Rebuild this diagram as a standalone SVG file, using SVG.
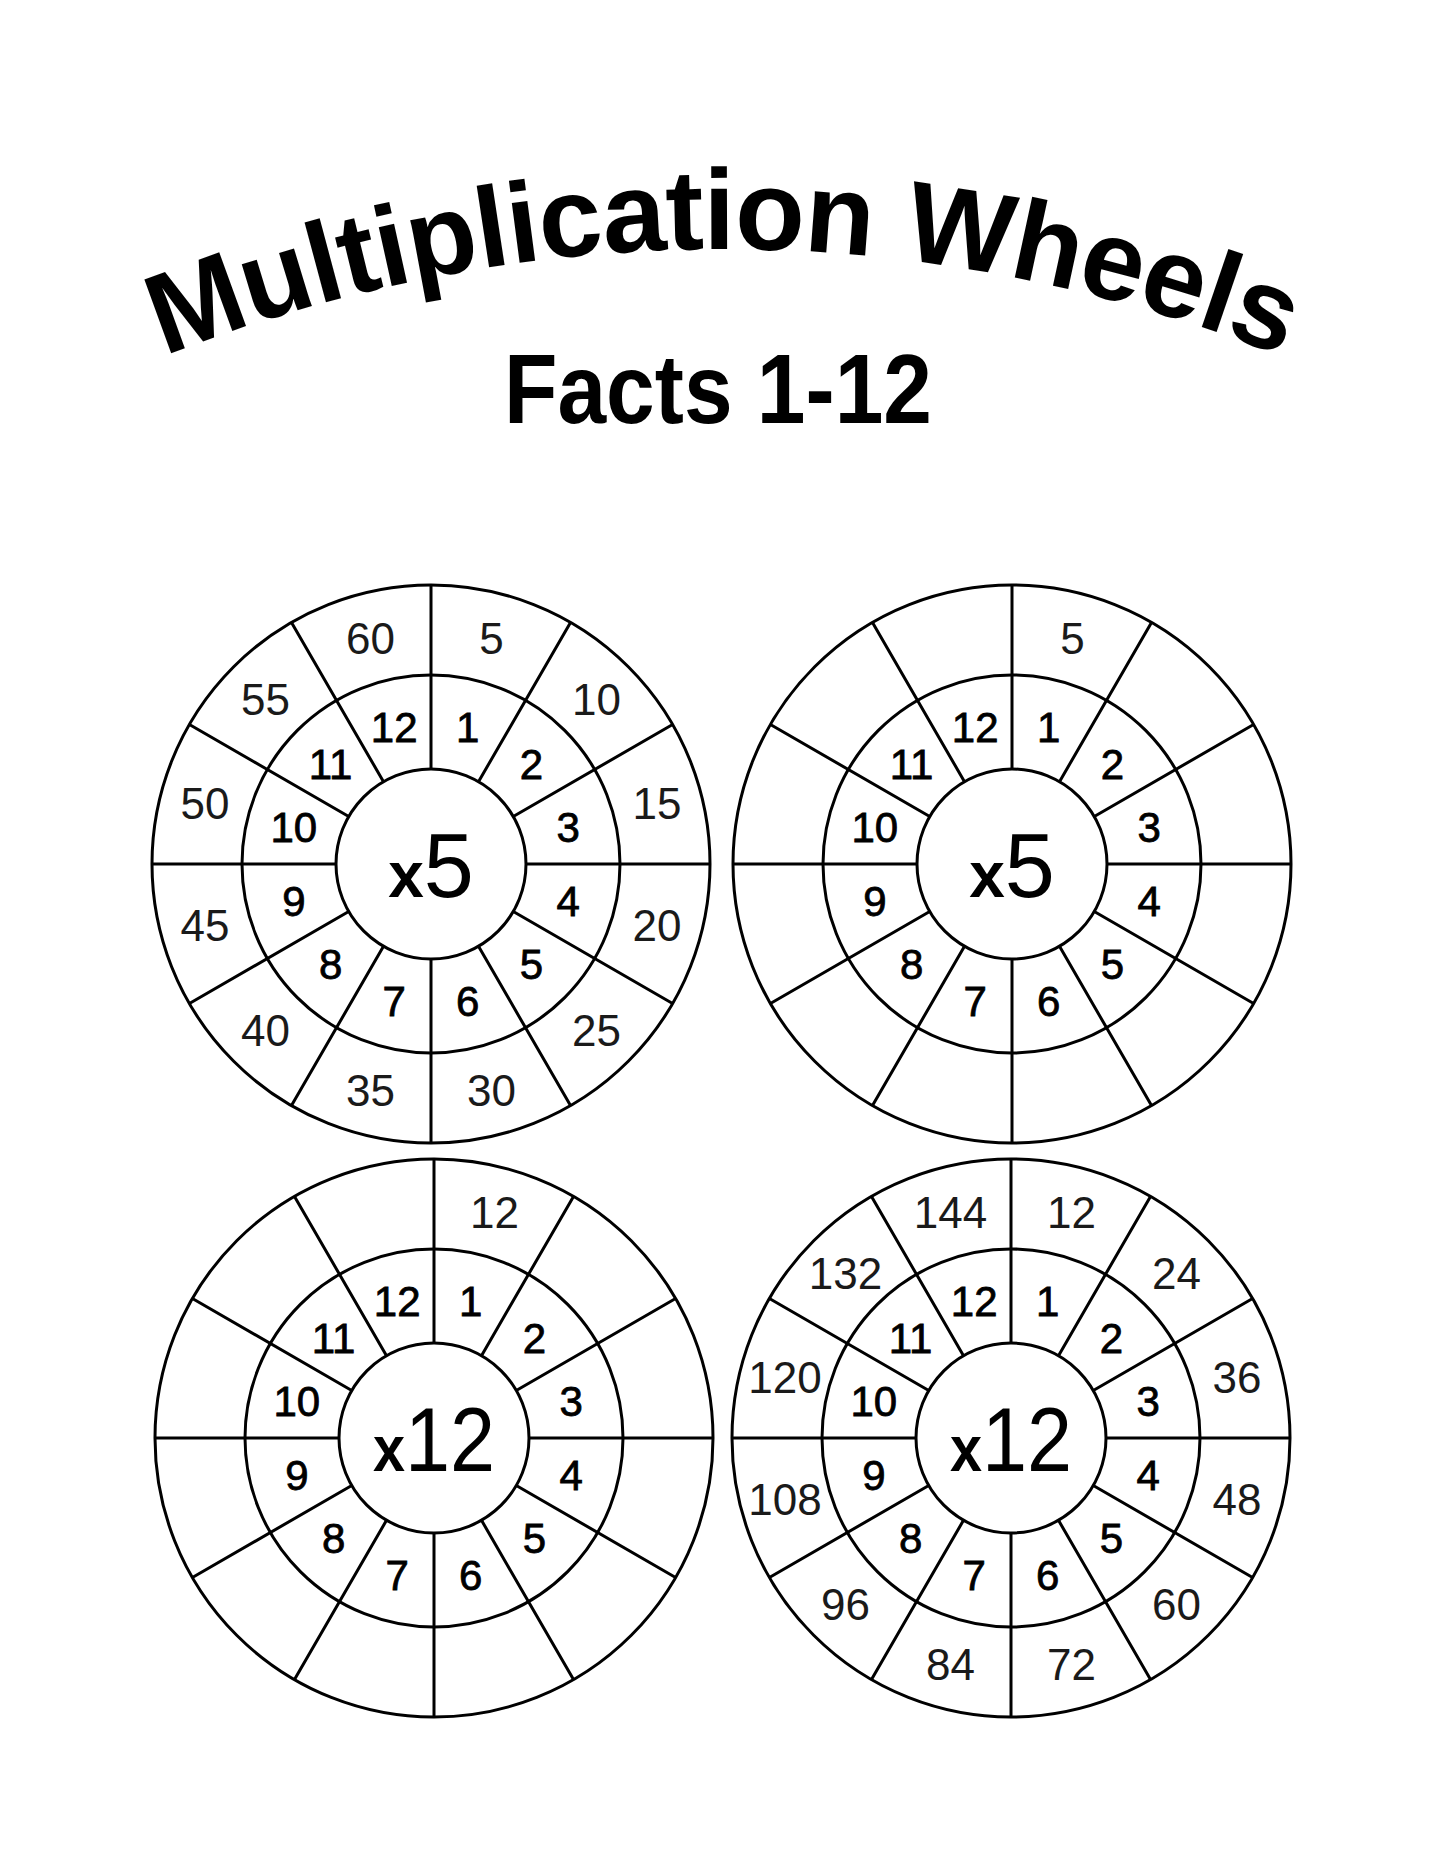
<svg xmlns="http://www.w3.org/2000/svg" xmlns:xlink="http://www.w3.org/1999/xlink" width="1445" height="1871" viewBox="0 0 1445 1871">
<style>
.ring{fill:none;stroke:#000;stroke-width:3}
.spoke{fill:none;stroke:#000;stroke-width:3}
.title{font-family:"Liberation Sans",Arial,sans-serif;font-weight:bold;fill:#000}
.out{font-family:"Liberation Sans",Arial,sans-serif;font-size:44px;text-anchor:middle;fill:#1a1a1a}
.in{font-family:"Liberation Sans",Arial,sans-serif;font-size:42px;text-anchor:middle;fill:#000;stroke:#000;stroke-width:0.8}
.ctr{font-family:"Liberation Sans",Arial,sans-serif;text-anchor:middle;fill:#000}
.cx{font-size:64px;font-weight:bold}
.cn{font-size:90px}
</style>
<defs>
<path id="titleArc" d="M 87 390 A 1505 1505 0 0 1 1359 390" fill="none"/>
<g id="frame">
<circle class="ring" r="279"/>
<circle class="ring" r="189"/>
<circle class="ring" r="95"/>
<path class="spoke" d="M0 -95V-279M47.5 -82.27L139.5 -241.6M82.27 -47.5L241.6 -139.5M95 0H279M82.27 47.5L241.6 139.5M47.5 82.27L139.5 241.6M0 95V279M-47.5 82.27L-139.5 241.6M-82.27 47.5L-241.6 139.5M-95 0H-279M-82.27 -47.5L-241.6 -139.5M-47.5 -82.27L-139.5 -241.6"/>
</g>
</defs>
<rect width="1445" height="1871" fill="#fff"/>

<g id="title">
<text class="title" font-size="114" letter-spacing="-1"><textPath href="#titleArc" xlink:href="#titleArc" startOffset="50%" text-anchor="middle">Multiplication Wheels</textPath></text>
<text class="title" x="718" y="423" font-size="98" text-anchor="middle" textLength="428" lengthAdjust="spacingAndGlyphs">Facts 1-12</text>
</g>

<g id="wheel-1" transform="translate(431,864)">
<use href="#frame" xlink:href="#frame"/>
<text class="ctr" x="0" y="33"><tspan class="cx">x</tspan><tspan class="cn">5</tspan></text>
<text class="in" x="36.8" y="-122.2">1</text>
<text class="in" x="100.4" y="-85.4">2</text>
<text class="in" x="137.2" y="-21.8">3</text>
<text class="in" x="137.2" y="51.8">4</text>
<text class="in" x="100.4" y="115.4">5</text>
<text class="in" x="36.8" y="152.2">6</text>
<text class="in" x="-36.8" y="152.2">7</text>
<text class="in" x="-100.4" y="115.4">8</text>
<text class="in" x="-137.2" y="51.8">9</text>
<text class="in" x="-137.2" y="-21.8">10</text>
<text class="in" x="-100.4" y="-85.4">11</text>
<text class="in" x="-36.8" y="-122.2">12</text>
<text class="out" x="60.6" y="-210">5</text>
<text class="out" x="165.5" y="-149.5">10</text>
<text class="out" x="226" y="-44.6">15</text>
<text class="out" x="226" y="76.6">20</text>
<text class="out" x="165.5" y="181.5">25</text>
<text class="out" x="60.6" y="242">30</text>
<text class="out" x="-60.6" y="242">35</text>
<text class="out" x="-165.5" y="181.5">40</text>
<text class="out" x="-226" y="76.6">45</text>
<text class="out" x="-226" y="-44.6">50</text>
<text class="out" x="-165.5" y="-149.5">55</text>
<text class="out" x="-60.6" y="-210">60</text>
</g>

<g id="wheel-2" transform="translate(1012,864)">
<use href="#frame" xlink:href="#frame"/>
<text class="ctr" x="0" y="33"><tspan class="cx">x</tspan><tspan class="cn">5</tspan></text>
<text class="in" x="36.8" y="-122.2">1</text>
<text class="in" x="100.4" y="-85.4">2</text>
<text class="in" x="137.2" y="-21.8">3</text>
<text class="in" x="137.2" y="51.8">4</text>
<text class="in" x="100.4" y="115.4">5</text>
<text class="in" x="36.8" y="152.2">6</text>
<text class="in" x="-36.8" y="152.2">7</text>
<text class="in" x="-100.4" y="115.4">8</text>
<text class="in" x="-137.2" y="51.8">9</text>
<text class="in" x="-137.2" y="-21.8">10</text>
<text class="in" x="-100.4" y="-85.4">11</text>
<text class="in" x="-36.8" y="-122.2">12</text>
<text class="out" x="60.6" y="-210">5</text>
</g>

<g id="wheel-3" transform="translate(434,1438)">
<use href="#frame" xlink:href="#frame"/>
<text class="ctr" x="0" y="33" transform="scale(0.9,1)"><tspan class="cx">x</tspan><tspan class="cn">12</tspan></text>
<text class="in" x="36.8" y="-122.2">1</text>
<text class="in" x="100.4" y="-85.4">2</text>
<text class="in" x="137.2" y="-21.8">3</text>
<text class="in" x="137.2" y="51.8">4</text>
<text class="in" x="100.4" y="115.4">5</text>
<text class="in" x="36.8" y="152.2">6</text>
<text class="in" x="-36.8" y="152.2">7</text>
<text class="in" x="-100.4" y="115.4">8</text>
<text class="in" x="-137.2" y="51.8">9</text>
<text class="in" x="-137.2" y="-21.8">10</text>
<text class="in" x="-100.4" y="-85.4">11</text>
<text class="in" x="-36.8" y="-122.2">12</text>
<text class="out" x="60.6" y="-210">12</text>
</g>

<g id="wheel-4" transform="translate(1011,1438)">
<use href="#frame" xlink:href="#frame"/>
<text class="ctr" x="0" y="33" transform="scale(0.9,1)"><tspan class="cx">x</tspan><tspan class="cn">12</tspan></text>
<text class="in" x="36.8" y="-122.2">1</text>
<text class="in" x="100.4" y="-85.4">2</text>
<text class="in" x="137.2" y="-21.8">3</text>
<text class="in" x="137.2" y="51.8">4</text>
<text class="in" x="100.4" y="115.4">5</text>
<text class="in" x="36.8" y="152.2">6</text>
<text class="in" x="-36.8" y="152.2">7</text>
<text class="in" x="-100.4" y="115.4">8</text>
<text class="in" x="-137.2" y="51.8">9</text>
<text class="in" x="-137.2" y="-21.8">10</text>
<text class="in" x="-100.4" y="-85.4">11</text>
<text class="in" x="-36.8" y="-122.2">12</text>
<text class="out" x="60.6" y="-210">12</text>
<text class="out" x="165.5" y="-149.5">24</text>
<text class="out" x="226" y="-44.6">36</text>
<text class="out" x="226" y="76.6">48</text>
<text class="out" x="165.5" y="181.5">60</text>
<text class="out" x="60.6" y="242">72</text>
<text class="out" x="-60.6" y="242">84</text>
<text class="out" x="-165.5" y="181.5">96</text>
<text class="out" x="-226" y="76.6">108</text>
<text class="out" x="-226" y="-44.6">120</text>
<text class="out" x="-165.5" y="-149.5">132</text>
<text class="out" x="-60.6" y="-210">144</text>
</g>
</svg>
